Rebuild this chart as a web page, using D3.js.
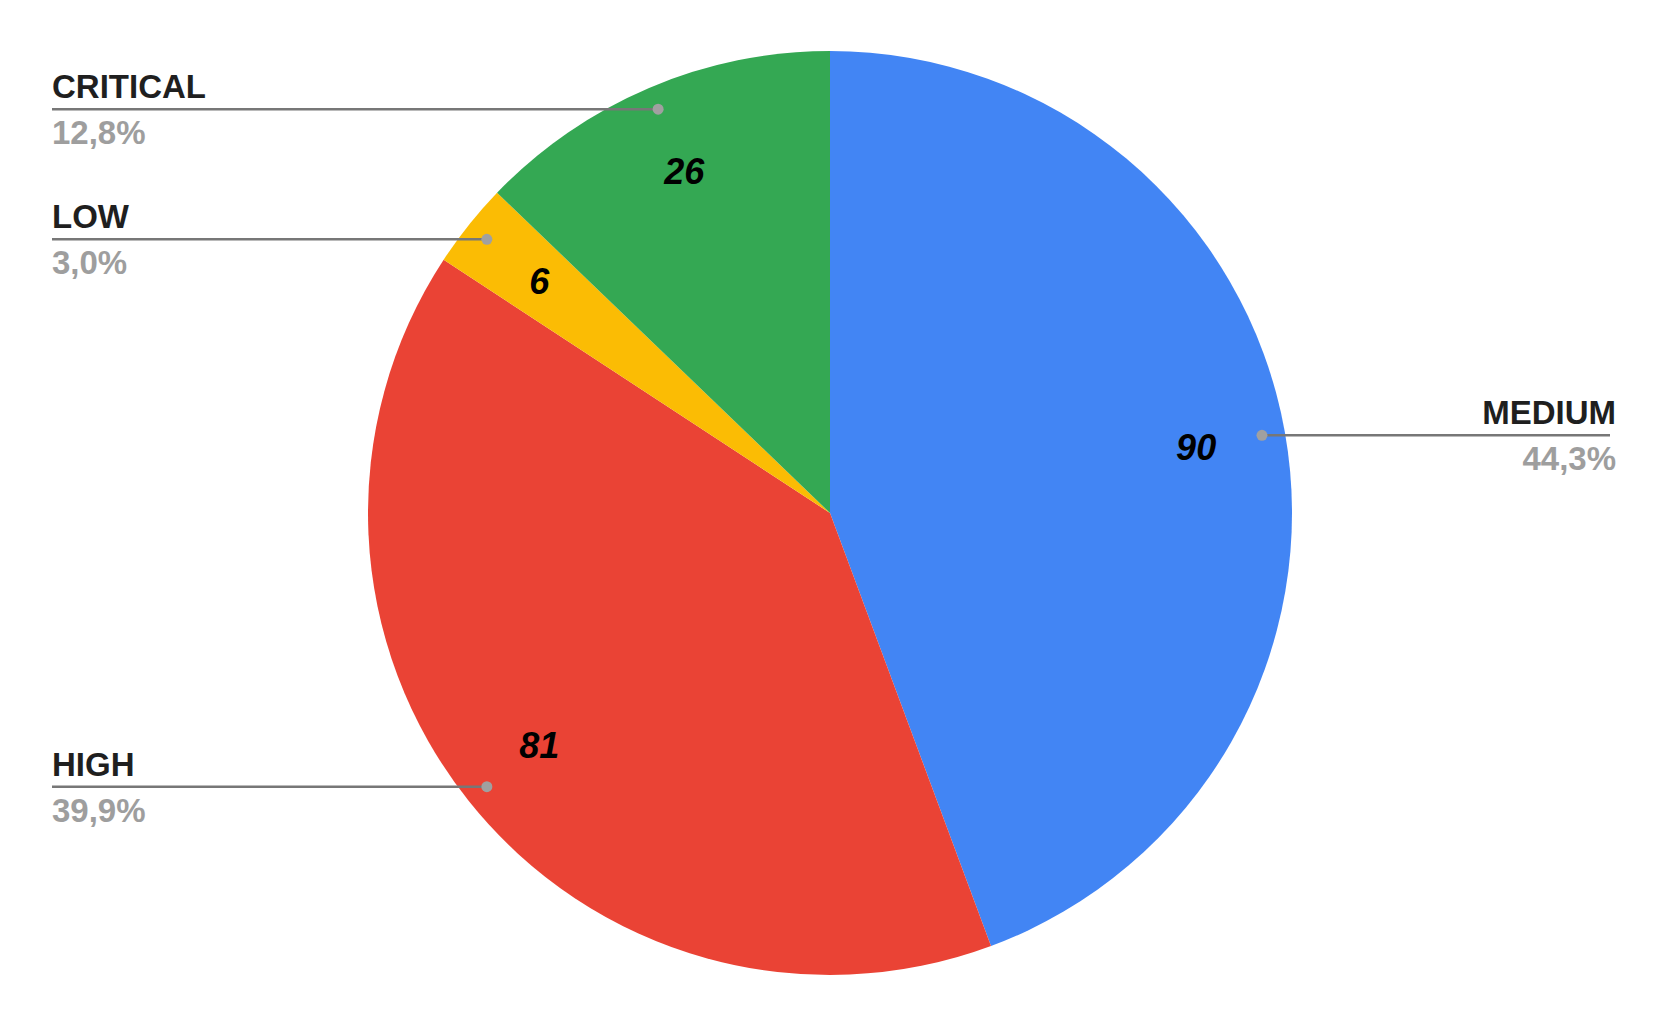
<!DOCTYPE html>
<html>
<head>
<meta charset="utf-8">
<script src="https://cdn.jsdelivr.net/npm/d3@7"></script>
<style>
  body { margin: 0; background: #fff; }
  text { font-family: "Liberation Sans", Arial, sans-serif; }
</style>
</head>
<body>
<svg id="chart"></svg>
<script>
// screen size
const width = 1661;
const height = 1027;

// data, clockwise from 12 o'clock
const categories = ["MEDIUM", "HIGH", "LOW", "CRITICAL"];
const values = [90, 81, 6, 26];
const percentLabels = ["44,3%", "39,9%", "3,0%", "12,8%"];
const colors = ["#4285F4", "#EA4335", "#FBBC04", "#34A853"];

const cx = 830, cy = 513, radius = 462;
const fontSize = 33;
const valueFontSize = 36;

const svg = d3.select("#chart")
  .attr("width", width)
  .attr("height", height);

const g = svg.append("g").attr("transform", `translate(${cx},${cy})`);

const data = categories.map((c, i) => ({ name: c, value: values[i], pct: percentLabels[i], color: colors[i] }));

const pie = d3.pie().sort(null).value(d => d.value);
const arcs = pie(data);

const arc = d3.arc().innerRadius(0).outerRadius(radius);
const valueArc = d3.arc().innerRadius(372).outerRadius(372);   // value labels inside slices
const dotArc = d3.arc().innerRadius(radius * 0.95).outerRadius(radius * 0.95);

// slices
g.selectAll("path.slice")
  .data(arcs)
  .enter()
  .append("path")
  .attr("class", "slice")
  .attr("d", arc)
  .attr("fill", d => d.data.color);

// value numbers
g.selectAll("text.val")
  .data(arcs)
  .enter()
  .append("text")
  .attr("class", "val")
  .attr("transform", d => `translate(${valueArc.centroid(d)})`)
  .attr("text-anchor", "middle")
  .attr("dy", "0.36em")
  .attr("font-size", valueFontSize)
  .attr("font-weight", "bold")
  .attr("font-style", "italic")
  .attr("fill", "#000")
  .text(d => d.data.value);

// leader lines + labels (page coords)
const leftX = 52, rightLineX = 1610, rightTextX = 1616;
const labels = svg.append("g");

arcs.forEach(d => {
  const [dx, dy] = dotArc.centroid(d);
  const px = cx + dx, py = cy + dy;
  const onRight = px > cx;
  const lineEnd = onRight ? rightLineX : leftX;
  const textX = onRight ? rightTextX : leftX;
  const anchor = onRight ? "end" : "start";

  labels.append("line")
    .attr("x1", px).attr("y1", py)
    .attr("x2", lineEnd).attr("y2", py)
    .attr("stroke", "#777")
    .attr("stroke-width", 2.5);

  labels.append("circle")
    .attr("cx", px).attr("cy", py)
    .attr("r", 5.5)
    .attr("fill", "#a0a0a0");

  labels.append("text")
    .attr("x", textX).attr("y", py - 11)
    .attr("text-anchor", anchor)
    .attr("font-size", fontSize)
    .attr("font-weight", "bold")
    .attr("fill", "#1f1f1f")
    .text(d.data.name);

  labels.append("text")
    .attr("x", textX).attr("y", py + 35)
    .attr("text-anchor", anchor)
    .attr("font-size", fontSize)
    .attr("font-weight", "bold")
    .attr("fill", "#9e9e9e")
    .text(d.data.pct);
});
</script>
</body>
</html>
